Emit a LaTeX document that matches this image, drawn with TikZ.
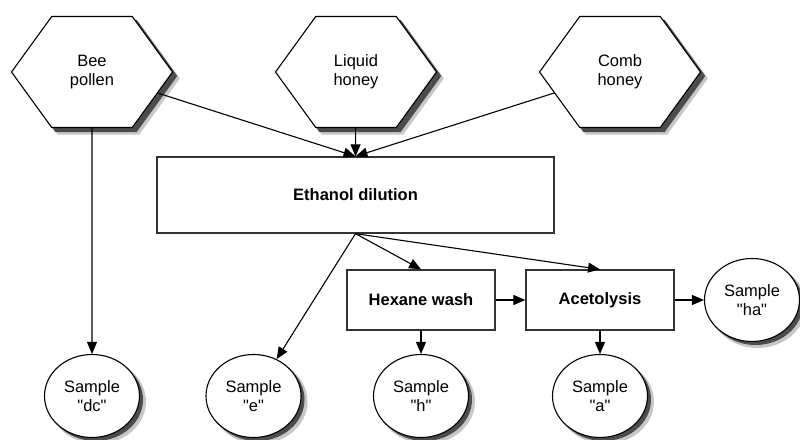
\documentclass[tikz,border=0pt]{standalone}
\usepackage{fontspec}
\setmainfont{Liberation Sans}
\usepackage{graphicx}
\usetikzlibrary{shapes.geometric,arrows.meta}
\pgfdeclarelayer{bg}
\pgfsetlayers{bg,main}
\newcommand\hextext[1]{\scalebox{0.796}[1]{\begin{tabular}{@{}c@{}}#1\end{tabular}}}
\begin{document}
\begin{tikzpicture}[x=1pt,y=-1pt,
  every node/.style={font=\fontsize{16.5}{19.5}\selectfont},
  hexnode/.style={regular polygon,regular polygon sides=6,minimum size=128.2pt,inner sep=0pt,
    draw,line width=1.1pt,fill=white,xscale=1.256},
  boxnode/.style={rectangle,draw=black!80,line width=1.3pt,fill=white,inner sep=0pt,font=\fontsize{16.5}{19.5}\selectfont\bfseries},
  samplenode/.style={ellipse,draw,line width=1.1pt,fill=white,minimum width=95pt,minimum height=83pt,inner sep=0pt,align=center},
  arr/.style={-{Triangle[length=12pt,width=10pt]},line width=1.1pt},
  shadowA/.style={fill=black!22},
  shadowB/.style={fill=black!70}
]
\useasboundingbox (0,0) rectangle (800,439);

\node[hexnode] (bee) at (92,72) {\hextext{Bee\\pollen}};
\node[hexnode] (liq) at (356,72) {\hextext{Liquid\\honey}};
\node[hexnode] (comb) at (620,72) {\hextext{Comb\\honey}};

\node[boxnode,minimum width=397pt,minimum height=76pt] (eth) at (355.5,195) {Ethanol dilution};
\node[boxnode,minimum width=148pt,minimum height=60pt] (hexw) at (421,300) {Hexane wash};
\node[boxnode,minimum width=148pt,minimum height=60pt] (acet) at (600,300) {Acetolysis};

\node[samplenode] (sdc) at (92,396) {Sample\\\textquotedbl dc\textquotedbl};
\node[samplenode] (se) at (253.5,396) {Sample\\\textquotedbl e\textquotedbl};
\node[samplenode] (sh) at (421,396) {Sample\\\textquotedbl h\textquotedbl};
\node[samplenode] (sa) at (600,396) {Sample\\\textquotedbl a\textquotedbl};
\node[samplenode] (sha) at (752,300) {Sample\\\textquotedbl ha\textquotedbl};

\begin{pgfonlayer}{bg}
  \foreach \n in {bee,liq,comb}{
    \fill[shadowA] ([shift={(6.5,6.5)}]\n.corner 1) -- ([shift={(6.5,6.5)}]\n.corner 2) -- ([shift={(6.5,6.5)}]\n.corner 3)
      -- ([shift={(6.5,6.5)}]\n.corner 4) -- ([shift={(6.5,6.5)}]\n.corner 5) -- ([shift={(6.5,6.5)}]\n.corner 6) -- cycle;
    \fill[shadowB] ([shift={(4,4)}]\n.corner 1) -- ([shift={(4,4)}]\n.corner 2) -- ([shift={(4,4)}]\n.corner 3)
      -- ([shift={(4,4)}]\n.corner 4) -- ([shift={(4,4)}]\n.corner 5) -- ([shift={(4,4)}]\n.corner 6) -- cycle;
  }
  \foreach \n in {sdc,se,sh,sa,sha}{
    \fill[shadowA] ([shift={(5.5,5.5)}]\n.center) ellipse [x radius=48.5, y radius=42.5];
    \fill[shadowB] ([shift={(3.5,3.5)}]\n.center) ellipse [x radius=47.5, y radius=41.5];
  }
\end{pgfonlayer}

\draw[arr] (bee) -- (eth.north);
\draw[arr] (liq) -- (eth.north);
\draw[arr] (comb) -- (eth.north);
\draw[arr] (bee.south) -- (sdc.north);
\draw[arr] (eth.south) -- (se);
\draw[arr] (eth.south) -- (hexw.north);
\draw[arr] (eth.south) -- (acet.north);
\draw[arr] (hexw) -- (acet);
\draw[arr] (acet) -- (sha);
\draw[arr] (hexw) -- (sh);
\draw[arr] (acet) -- (sa);
\end{tikzpicture}
\end{document}
